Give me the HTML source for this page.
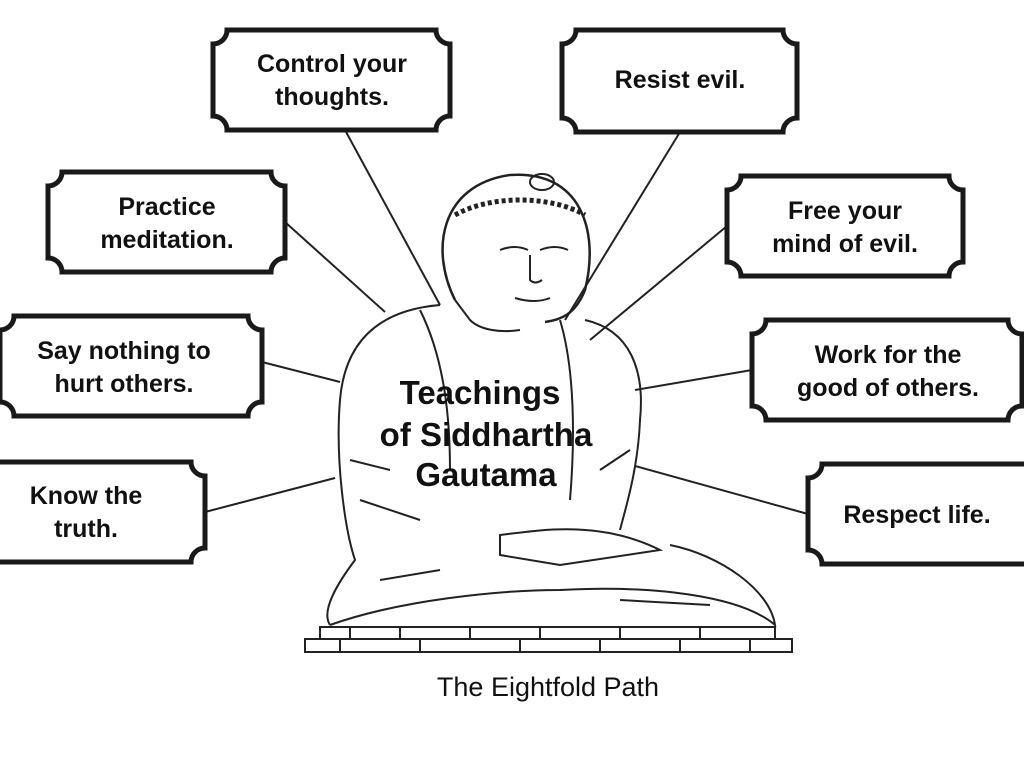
<!DOCTYPE html>
<html><head><style>
body{margin:0;background:#fff;width:1024px;height:768px;overflow:hidden}
svg{display:block}
text{font-family:"Liberation Sans",sans-serif;fill:#111}
.b{font-weight:bold;font-size:25px}
</style></head><body>
<svg width="1024" height="768" viewBox="0 0 1024 768">
<g stroke="#222" stroke-width="2" fill="none">
<line x1="345" y1="130" x2="440" y2="305"/>
<line x1="680" y1="132" x2="565" y2="320"/>
<line x1="285" y1="222" x2="385" y2="312"/>
<line x1="727" y1="226" x2="590" y2="340"/>
<line x1="262" y1="362" x2="340" y2="382"/>
<line x1="752" y1="370" x2="635" y2="390"/>
<line x1="205" y1="512" x2="335" y2="478"/>
<line x1="808" y1="514" x2="635" y2="466"/>
<path d="M455 300 C430 250 440 185 510 175 C580 170 600 230 585 290 C575 315 560 320 545 322" stroke-width="2.5"/>
<path d="M455 300 L470 320 C480 330 500 333 520 330"/>
<ellipse cx="542" cy="182" rx="12" ry="8"/>
<path d="M455 215 C490 195 550 195 585 215" stroke-dasharray="4 3" stroke-width="5"/>
<path d="M500 250 q15 -6 28 0 M540 250 q15 -6 28 0 M530 255 l0 25 q5 5 12 0 M515 298 q20 6 35 0"/>
<path d="M440 305 C380 310 345 340 340 400 C335 460 345 530 355 560 C340 580 320 610 330 625"/>
<path d="M585 320 C630 330 645 370 640 420 C638 470 625 510 620 530"/>
<path d="M420 310 C445 360 450 420 450 470 M560 320 C575 370 575 440 570 500"/>
<path d="M330 625 C400 600 500 590 560 590 C650 585 740 595 775 625 C770 590 720 555 670 545"/>
<path d="M500 535 C540 530 600 520 660 550 L560 565 L500 555 Z"/>
<path d="M350 460 l40 10 M360 500 l60 20 M600 470 l30 -20 M380 580 l60 -10 M620 600 l90 5"/>
<rect x="320" y="627" width="455" height="12"/>
<rect x="305" y="639" width="487" height="13"/>
<path d="M350 627v12M400 627v12M470 627v12M540 627v12M620 627v12M700 627v12M340 639v13M420 639v13M520 639v13M600 639v13M680 639v13M750 639v13"/>
</g>
<g fill="#fff" stroke="#1a1a1a" stroke-width="5">
<path d="M227 30H436A14 14 0 0 0 450 44V116A14 14 0 0 0 436 130H227A14 14 0 0 0 213 116V44A14 14 0 0 0 227 30Z"/>
<path d="M576 30H783A14 14 0 0 0 797 44V118A14 14 0 0 0 783 132H576A14 14 0 0 0 562 118V44A14 14 0 0 0 576 30Z"/>
<path d="M62 172H271A14 14 0 0 0 285 186V258A14 14 0 0 0 271 272H62A14 14 0 0 0 48 258V186A14 14 0 0 0 62 172Z"/>
<path d="M741 176H949A14 14 0 0 0 963 190V262A14 14 0 0 0 949 276H741A14 14 0 0 0 727 262V190A14 14 0 0 0 741 176Z"/>
<path d="M14 316H248A14 14 0 0 0 262 330V402A14 14 0 0 0 248 416H14A14 14 0 0 0 0 402V330A14 14 0 0 0 14 316Z"/>
<path d="M766 320H1008A14 14 0 0 0 1022 334V406A14 14 0 0 0 1008 420H766A14 14 0 0 0 752 406V334A14 14 0 0 0 766 320Z"/>
<path d="M-4 462H191A14 14 0 0 0 205 476V548A14 14 0 0 0 191 562H-4Z"/>
<path d="M822 464H1030V564H822A14 14 0 0 0 808 550V478A14 14 0 0 0 822 464Z"/>
</g>
<g text-anchor="middle">
<text class="b" x="332" y="72">Control your</text><text class="b" x="332" y="105">thoughts.</text>
<text class="b" x="680" y="88">Resist evil.</text>
<text class="b" x="167" y="215">Practice</text><text class="b" x="167" y="248">meditation.</text>
<text class="b" x="845" y="219">Free your</text><text class="b" x="845" y="252">mind of evil.</text>
<text class="b" x="124" y="359">Say nothing to</text><text class="b" x="124" y="392">hurt others.</text>
<text class="b" x="888" y="363">Work for the</text><text class="b" x="888" y="396">good of others.</text>
<text class="b" x="86" y="504">Know the</text><text class="b" x="86" y="537">truth.</text>
<text class="b" x="917" y="523">Respect life.</text>
<text x="480" y="404" style="font-weight:bold;font-size:33px">Teachings</text>
<text x="486" y="446" style="font-weight:bold;font-size:33px">of Siddhartha</text>
<text x="486" y="486" style="font-weight:bold;font-size:33px">Gautama</text>
<text x="548" y="696" style="font-size:27px">The Eightfold Path</text>
</g>
</svg>
</body></html>
